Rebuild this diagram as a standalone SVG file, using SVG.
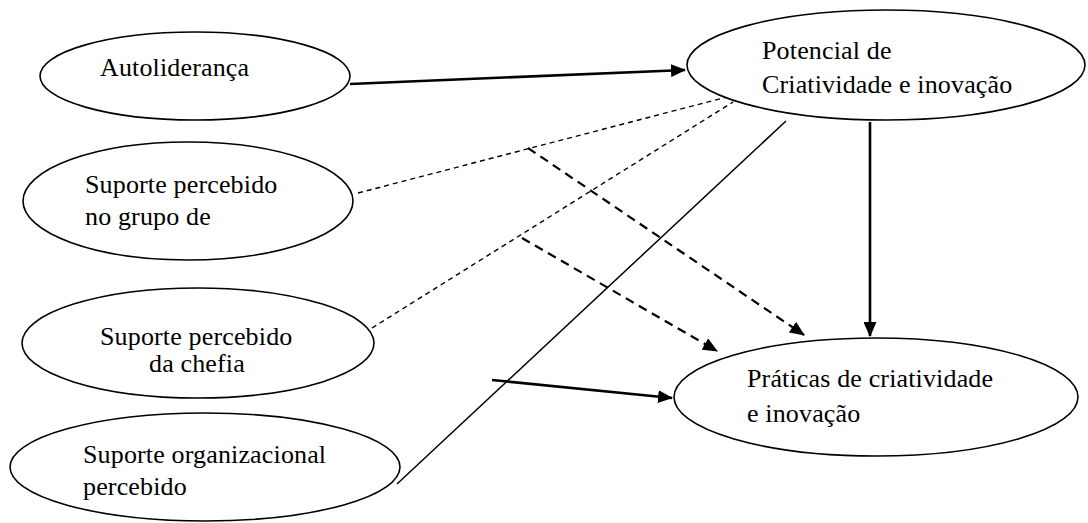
<svg xmlns="http://www.w3.org/2000/svg" width="1088" height="523" viewBox="0 0 1088 523">
<defs>
<marker id="ah" markerUnits="userSpaceOnUse" markerWidth="15" markerHeight="13" refX="14" refY="6.5" orient="auto">
<path d="M0,0 L15,6.5 L0,13 z" fill="#000"/>
</marker>
<style>
.n{fill:#fff;stroke:#000;stroke-width:1.6}
.t{font-family:"Liberation Serif","Times New Roman",serif;font-size:26px;letter-spacing:0.15px;fill:#000}
.c{fill:none;stroke:#000}
.bold{stroke-width:2.6}
.thin{stroke-width:1.5}
.fd{stroke-width:1.4;stroke-dasharray:5 4}
.bd{stroke-width:2.2;stroke-dasharray:9 6}
</style>
</defs>
<g id="connectors">
<line class="c bold" x1="350" y1="84" x2="685" y2="70" marker-end="url(#ah)"/>
<line class="c bold" x1="870" y1="122" x2="870" y2="336" marker-end="url(#ah)"/>
<line class="c fd" x1="358" y1="193" x2="727" y2="97"/>
<line class="c fd" x1="372" y1="328" x2="733" y2="102"/>
<line class="c thin" x1="397" y1="484" x2="786" y2="121"/>
<line class="c bd" x1="528" y1="148" x2="804" y2="335" marker-end="url(#ah)"/>
<line class="c bd" x1="522" y1="238" x2="717" y2="351" marker-end="url(#ah)"/>
<line class="c bold" x1="492" y1="380" x2="672" y2="398" marker-end="url(#ah)"/>
</g>
<g id="autolideranca">
<ellipse class="n" cx="195" cy="76" rx="155" ry="44"/>
<text class="t" x="100" y="76">Autoliderança</text>
</g>
<g id="potencial">
<ellipse class="n" cx="886" cy="65" rx="199" ry="55"/>
<text class="t" x="762" y="59">Potencial de</text>
<text class="t" x="762" y="93">Criatividade e inovação</text>
</g>
<g id="suporte-grupo">
<ellipse class="n" cx="188" cy="201" rx="165" ry="59"/>
<text class="t" x="85" y="193">Suporte percebido</text>
<text class="t" x="85" y="225">no grupo de</text>
</g>
<g id="suporte-chefia">
<ellipse class="n" cx="198" cy="343" rx="176" ry="55"/>
<text class="t" x="100" y="345">Suporte percebido</text>
<text class="t" x="149" y="372">da chefia</text>
</g>
<g id="suporte-organizacional">
<ellipse class="n" cx="205" cy="467" rx="195" ry="54"/>
<text class="t" x="83" y="463">Suporte organizacional</text>
<text class="t" x="83" y="495">percebido</text>
</g>
<g id="praticas">
<ellipse class="n" cx="876" cy="397" rx="202" ry="59"/>
<text class="t" x="747" y="387">Práticas de criatividade</text>
<text class="t" x="747" y="422">e inovação</text>
</g>
</svg>
